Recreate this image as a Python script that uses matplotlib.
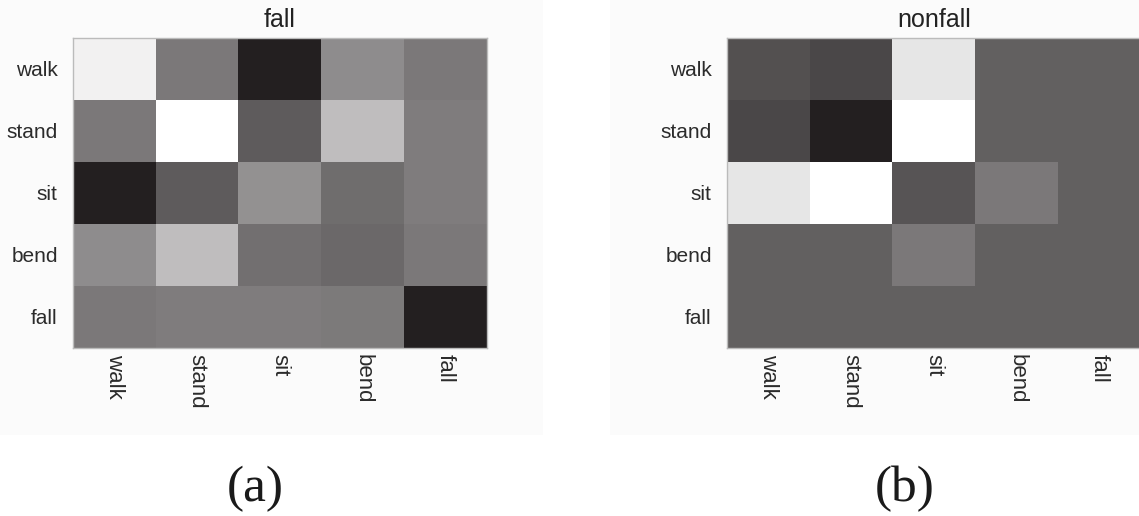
import matplotlib
matplotlib.use("Agg")
import matplotlib.pyplot as plt
import numpy as np
from matplotlib.colors import LinearSegmentedColormap
from matplotlib.patches import Rectangle

# activity classes (rows and columns of both matrices)
ACTIVITIES = ["walk", "stand", "sit", "bend", "fall"]

# normalised cell intensities, 0 = darkest, 1 = white
FALL_MATRIX = [
    [0.94, 0.40, 0.00, 0.49, 0.40],
    [0.40, 1.00, 0.27, 0.71, 0.42],
    [0.00, 0.27, 0.51, 0.35, 0.42],
    [0.49, 0.71, 0.36, 0.33, 0.40],
    [0.40, 0.42, 0.42, 0.41, 0.00],
]

NONFALL_MATRIX = [
    [0.22, 0.18, 0.89, 0.29, 0.29],
    [0.18, 0.00, 1.00, 0.29, 0.29],
    [0.89, 1.00, 0.24, 0.40, 0.29],
    [0.29, 0.29, 0.40, 0.29, 0.29],
    [0.29, 0.29, 0.29, 0.29, 0.29],
]

PANEL_TITLES = ["fall", "nonfall"]
PANEL_TAGS = ["(a)", "(b)"]

W, H = 1139, 516
fig = plt.figure(figsize=(W / 100, H / 100), dpi=100)
fig.patch.set_facecolor("white")

# faint grey backing behind each sub-figure
for x0, x1 in [(0, 543), (610, W)]:
    fig.patches.append(Rectangle((x0 / W, 1 - 435 / H), (x1 - x0) / W, 435 / H,
                                 transform=fig.transFigure, facecolor="#fbfbfb",
                                 edgecolor="none", zorder=-5))

cmap = LinearSegmentedColormap.from_list("print_gray", ["#231f20", "#ffffff"])

ax_w = 414 / W
ax_h = 310 / H
ax_bottom = 1 - 348 / H
lefts = [73 / W, 727 / W]
tag_x = [255 / W, 905 / W]

for i, (mat, title) in enumerate(zip([FALL_MATRIX, NONFALL_MATRIX], PANEL_TITLES)):
    ax = fig.add_axes([lefts[i], ax_bottom, ax_w, ax_h], zorder=2)
    ax.imshow(np.array(mat), cmap=cmap, vmin=0, vmax=1, aspect="auto",
              interpolation="nearest")
    ax.set_xticks(range(len(ACTIVITIES)))
    ax.set_yticks(range(len(ACTIVITIES)))
    ax.set_xticklabels(ACTIVITIES, rotation=270, fontsize=16, color="#2b2b2b",
                       family="Liberation Sans")
    ax.set_yticklabels(ACTIVITIES, fontsize=15, color="#2b2b2b",
                       family="Liberation Sans")
    ax.tick_params(axis="y", length=0, pad=11)
    ax.tick_params(axis="x", length=0, pad=4)
    for s in ax.spines.values():
        s.set_color("#bbbbbb")
        s.set_linewidth(1)
    ax.set_title(title, fontsize=18, color="#222222", pad=8,
                 family="Liberation Sans")

    fig.text(tag_x[i], 1 - 489 / H, PANEL_TAGS[i], ha="center", va="center",
             fontsize=37, family="Liberation Serif", color="#1a1a1a")

fig.savefig("out.png", dpi=100, facecolor=fig.get_facecolor())
